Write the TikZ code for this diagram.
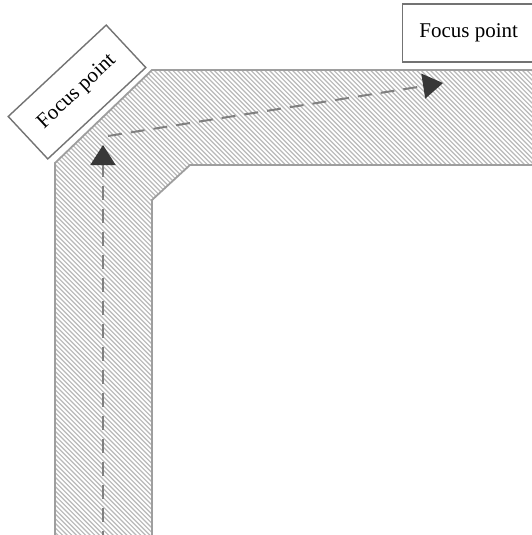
\documentclass[tikz,border=0pt]{standalone}
\usepackage{fontspec}
\setmainfont{Liberation Serif}
\usetikzlibrary{arrows.meta}
\begin{document}
\begin{tikzpicture}[x=1pt,y=-1pt,
  bandedge/.style={draw=black!38,line width=1.8pt},
  hatch/.style={black!28,line width=1.15pt},
  focusbox/.style={draw=black!55,line width=1.4pt,fill=white,
    minimum width=134pt,minimum height=58pt,inner sep=0pt,
    font=\fontsize{21}{25}\selectfont},
  route/.style={draw=black!50,line width=2pt,dash pattern=on 14pt off 9pt,
    -{Triangle[length=20pt,width=25pt,color=black!78]}}]
  \useasboundingbox (0,0) rectangle (531,535);

  % hatched corridor band
  \begin{scope}
    \clip (55,545) -- (55,163) -- (152,70) -- (545,70) -- (545,165)
          -- (190,165) -- (152,200) -- (152,545) -- cycle;
    \fill[white] (0,0) rectangle (545,545);
    \foreach \i in {-560,-555.4,...,560}
      \draw[hatch] (\i,0) -- ++(620,620);
  \end{scope}
  \draw[bandedge] (55,545) -- (55,163) -- (152,70) -- (545,70);
  \draw[bandedge] (545,165) -- (190,165) -- (152,200) -- (152,545);

  % focus labels
  \node[focusbox,rotate=43] (fp1) at (77,92) {Focus point};
  \node[focusbox,minimum width=140pt,anchor=west] (fp2) at (402,33) {\hspace*{-4pt}Focus point\hspace*{4pt}};

  % walking routes
  \coordinate (s1) at (103,545);
  \coordinate (t1) at (103,145);
  \coordinate (s2) at (108,136);
  \coordinate (t2) at (443,83);
  \draw[route] (s1) -- (t1);
  \draw[route] (s2) -- (t2);
\end{tikzpicture}
\end{document}
